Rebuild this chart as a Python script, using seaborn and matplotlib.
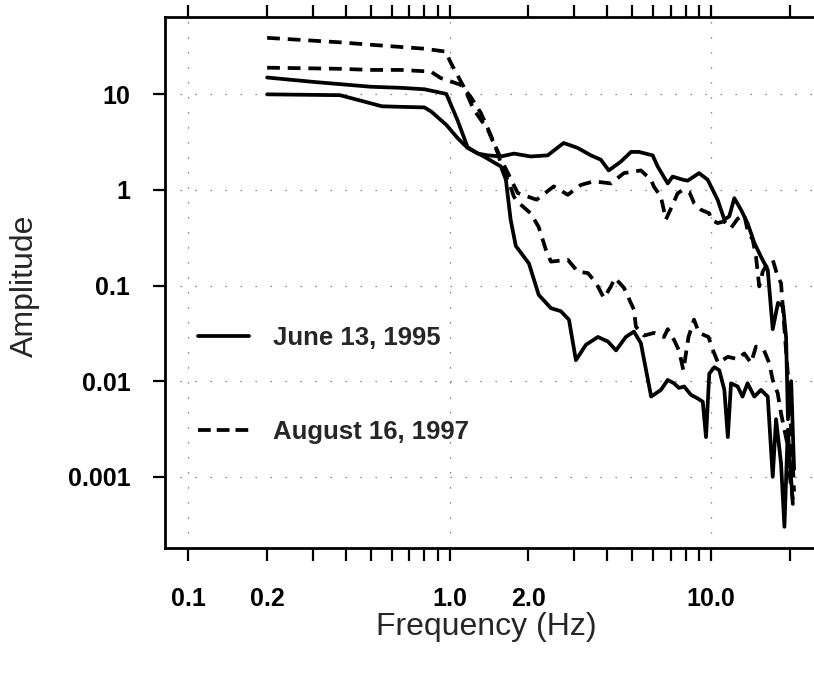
import numpy as np
import pandas as pd
import matplotlib
matplotlib.use("Agg")
import matplotlib.pyplot as plt
import seaborn as sns
from matplotlib.lines import Line2D
from matplotlib.ticker import FixedLocator, FixedFormatter, NullLocator

# June 13, 1995 - trace starting near 15 (stays high above 2 Hz)
june_hi_freq = [0.2, 0.3, 0.5, 0.65, 0.8, 0.97, 1.07, 1.17, 1.28, 1.4, 1.57, 1.76, 2.04, 2.37,
                2.6, 2.73, 3.09, 3.47, 3.79, 4.06, 4.52, 4.94, 5.3, 5.98, 6.25, 6.83, 7.13, 7.8,
                8.14, 9.0, 9.71, 10.6, 11.25, 11.75, 12.28, 13.03, 13.8, 14.65, 15.54, 16.49,
                17.23, 18.05, 18.88, 19.38, 19.7, 20.27, 20.8]
june_hi_amp = [15, 13.5, 12, 11.7, 11.3, 10.1, 5.4, 2.8, 2.4, 2.3, 2.24, 2.4, 2.24, 2.3,
               2.8, 3.1, 2.75, 2.3, 2.07, 1.6, 1.98, 2.5, 2.5, 2.3, 1.76, 1.17, 1.38, 1.28,
               1.25, 1.5, 1.28, 0.79, 0.49, 0.53, 0.82, 0.62, 0.45, 0.28, 0.2, 0.146,
               0.035, 0.066, 0.06, 0.029, 0.004, 0.01, 0.0012]

# June 13, 1995 - trace starting near 10 (drops low above 2 Hz)
june_lo_freq = [0.2, 0.38, 0.55, 0.65, 0.8, 0.85, 0.97, 1.07, 1.17, 1.35, 1.57, 1.64, 1.71, 1.79,
                2.01, 2.19, 2.44, 2.66, 2.86, 3.04, 3.32, 3.69, 4.03, 4.33, 4.72, 5.07, 5.39,
                5.9, 6.43, 6.83, 7.22, 7.54, 7.89, 8.38, 8.89, 9.3, 9.57, 9.85, 10.3, 10.76,
                11.25, 11.6, 11.93, 12.65, 13.2, 13.8, 14.65, 15.54, 16.49, 17.23, 17.74,
                18.54, 19.1, 19.68, 20.57]
june_lo_amp = [10, 9.8, 7.5, 7.4, 7.3, 6.6, 4.8, 3.5, 2.75, 2.24, 1.76, 1.28, 0.49, 0.26,
               0.17, 0.08, 0.058, 0.054, 0.044, 0.0166, 0.024, 0.029, 0.026, 0.021, 0.029,
               0.033, 0.025, 0.0069, 0.0081, 0.0103, 0.0095, 0.0085, 0.0088, 0.0072, 0.0066,
               0.0061, 0.0026, 0.012, 0.014, 0.013, 0.0081, 0.0026, 0.0095, 0.0088, 0.0069,
               0.0095, 0.0069, 0.0081, 0.0069, 0.001, 0.004, 0.00138, 0.0003, 0.0031, 0.00052]

# August 16, 1997 - trace starting near 40 (drops low above 2 Hz)
aug_lo_freq = [0.2, 0.38, 0.5, 0.8, 0.965, 1.009, 1.131, 1.236, 1.398, 1.527, 1.596, 1.69, 1.76,
               1.84, 2.04, 2.19, 2.33, 2.44, 2.83, 3.09, 3.38, 3.63, 3.89, 4.14, 4.29, 4.64,
               5.07, 5.16, 5.54, 6.05, 6.61, 6.83, 7.22, 7.54, 7.84, 8.2, 8.61, 9.0, 9.78,
               10.18, 10.65, 11.6, 12.65, 13.41, 14.23, 14.87, 15.96, 16.7, 17.23, 18.0,
               18.54, 19.1, 19.68, 19.95, 20.57]
aug_lo_amp = [39, 35, 33, 30, 28, 21.4, 12, 6.9, 4.3, 2.44, 1.6, 1.18, 0.85,
              0.73, 0.57, 0.41, 0.24, 0.178, 0.186, 0.14, 0.135, 0.107, 0.074, 0.098, 0.12,
              0.095, 0.056, 0.037, 0.030, 0.032, 0.029, 0.035, 0.027, 0.021, 0.013, 0.029,
              0.044, 0.032, 0.029, 0.021, 0.0155, 0.018, 0.017, 0.0195, 0.0155, 0.023, 0.021,
              0.0155, 0.0103, 0.0075, 0.0046, 0.0031, 0.0021, 0.0011, 0.00058]

# August 16, 1997 - trace starting near 19 (stays near 1 above 2 Hz)
aug_hi_freq = [0.2, 0.38, 0.5, 0.65, 0.846, 0.924, 1.1, 1.2, 1.315, 1.41, 1.5, 1.6, 1.82, 2.15,
               2.5, 2.83, 3.18, 3.56, 4.14, 4.64, 5.39, 5.89, 6.05, 6.43, 6.72, 7.13, 7.45,
               7.8, 8.26, 8.61, 9.16, 9.85, 10.0, 10.6, 11.25, 11.93, 12.65, 13.41, 13.8,
               14.45, 14.87, 15.3, 15.78, 16.24, 17.23, 18.0, 18.54, 18.83, 19.1, 19.68,
               20.27, 20.8]
aug_hi_amp = [19, 18.5, 18, 18, 17.3, 14.8, 12.6, 9.5, 6.4, 4.2, 2.8, 1.9, 0.93, 0.79,
              1.09, 0.89, 1.13, 1.23, 1.17, 1.5, 1.6, 1.28, 1.08, 0.85, 0.49, 0.7, 0.92,
              1.0, 0.95, 0.73, 0.62, 0.57, 0.49, 0.45, 0.47, 0.4, 0.5, 0.55, 0.38,
              0.3, 0.2, 0.098, 0.14, 0.16, 0.186, 0.125, 0.106, 0.06, 0.035, 0.012,
              0.003, 0.0007]

events = ["June 13, 1995", "August 16, 1997"]

x_major = [0.1, 1, 10]
x_major_labels = ["0.1", "1.0", "10.0"]
x_minor = [0.2, 0.3, 0.4, 0.5, 0.6, 0.7, 0.8, 0.9, 2, 3, 4, 5, 6, 7, 8, 9, 20]
x_minor_labels = ["0.2", "", "", "", "", "", "", "", "2.0", "", "", "", "", "", "", "", ""]
y_ticks = [0.001, 0.01, 0.1, 1, 10]
y_labels = ["0.001", "0.01", "0.1", "1", "10"]


def trace_frame(freq, amp, event, trace):
    return pd.DataFrame({"freq": freq, "amp": amp, "event": event, "trace": trace})


df = pd.concat([
    trace_frame(june_hi_freq, june_hi_amp, events[0], "j1"),
    trace_frame(june_lo_freq, june_lo_amp, events[0], "j2"),
    trace_frame(aug_lo_freq, aug_lo_amp, events[1], "a1"),
    trace_frame(aug_hi_freq, aug_hi_amp, events[1], "a2"),
], ignore_index=True)

sns.set_style("ticks")
plt.rcParams["font.family"] = ["Liberation Sans", "DejaVu Sans"]
plt.rcParams["font.weight"] = "bold"

W, H = 814, 677
fig = plt.figure(figsize=(W / 100, H / 100), dpi=100)
ax = fig.add_axes([165 / W, 1 - 548 / H, 674 / W, 531 / H])

sns.lineplot(data=df, x="freq", y="amp", style="event", units="trace",
             estimator=None, sort=False, color="black", linewidth=2.7,
             dashes={events[0]: "", events[1]: (3.4, 2.1)}, legend=False, ax=ax)

ax.set_xscale("log")
ax.set_yscale("log")
ax.set_xlim(0.0813, 30.9)
ax.set_ylim(1.8e-4, 64.4)

ax.xaxis.set_major_locator(FixedLocator(x_major))
ax.xaxis.set_major_formatter(FixedFormatter(x_major_labels))
ax.xaxis.set_minor_locator(FixedLocator(x_minor))
ax.xaxis.set_minor_formatter(FixedFormatter(x_minor_labels))
ax.yaxis.set_major_locator(FixedLocator(y_ticks))
ax.yaxis.set_major_formatter(FixedFormatter(y_labels))
ax.yaxis.set_minor_locator(NullLocator())

ax.tick_params(which="both", direction="out", length=9, width=1.6, colors="black",
               labelsize=18, top=True, right=False, labeltop=False)
ax.tick_params(axis="x", which="both", pad=19)
ax.tick_params(axis="y", which="both", pad=16)

for side in ["left", "bottom", "top"]:
    ax.spines[side].set_linewidth(2.0)
    ax.spines[side].set_color("black")
ax.spines["right"].set_visible(False)

ax.grid(True, which="major", color="0.4", linewidth=0.9, linestyle=(0, (1, 11)))

handles = [Line2D([], [], color="black", lw=2.7, ls="-"),
           Line2D([], [], color="black", lw=2.7, ls=(0, (3.4, 1.6)))]
ax.legend(handles, events, loc="center left", bbox_to_anchor=(198 / W, 1 - 385 / H),
          bbox_transform=fig.transFigure, frameon=False, fontsize=18.5,
          handlelength=2.0, handletextpad=0.9, labelspacing=2.7,
          borderpad=0, borderaxespad=0)

ax.set_xlabel("Frequency (Hz)", fontsize=23, fontweight="normal")
ax.xaxis.set_label_coords(0.476, -0.12)
ax.set_ylabel("Amplitude", fontsize=23, fontweight="normal")
ax.yaxis.set_label_coords(-0.1855, 0.493)

fig.savefig("out.png", dpi=100)
